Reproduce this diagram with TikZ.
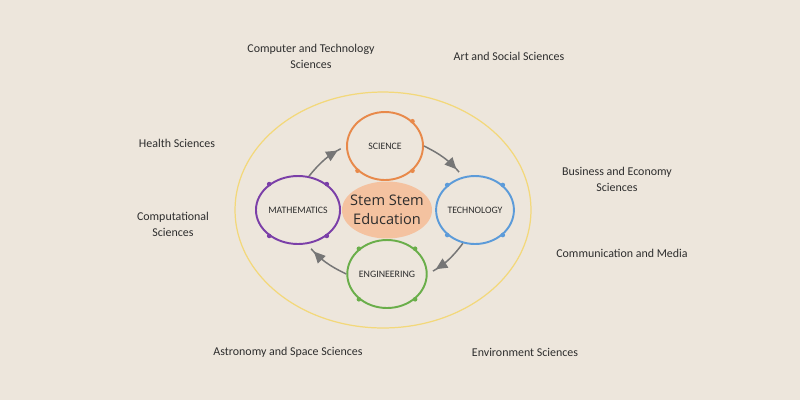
\documentclass[tikz,border=0pt]{standalone}
\usepackage{fontspec}
\setmainfont{Carlito}
\newfontfamily\opensans{Open Sans}
\usetikzlibrary{shapes.geometric,arrows.meta,decorations.markings}
\definecolor{paper}{RGB}{237,230,220}
\definecolor{ink}{RGB}{45,45,45}
\definecolor{sciorange}{RGB}{232,137,74}
\definecolor{mathpurple}{RGB}{123,63,168}
\definecolor{techblue}{RGB}{92,155,217}
\definecolor{enggreen}{RGB}{106,174,74}
\definecolor{peach}{RGB}{244,194,160}
\definecolor{rimyellow}{RGB}{243,216,122}
\definecolor{flowgray}{RGB}{118,118,118}
\begin{document}
\begin{tikzpicture}[x=0.02cm, y=-0.02cm,
    field/.style={align=center, text=ink, font=\fontsize{6.8}{9}\selectfont},
    ring/.style={ellipse, draw, line width=1.1pt, minimum width=1.52cm, minimum height=1.36cm,
        inner sep=0pt, text=ink, font=\fontsize{5.6}{6}\selectfont},
    flow/.style={draw=flowgray, line width=0.85pt, shorten >=0.12cm,
        postaction={decorate}, decoration={markings,
        mark=at position 0.8 with {\arrow[flowgray]{Triangle[length=6.5pt,width=6pt]}}}}]
        \fill[paper] (0,0) rectangle (800,400);
        % outer ring
        \node[ellipse, draw=rimyellow, line width=0.7pt, minimum width=5.92cm, minimum height=4.72cm] (rim) at (383,210) {};
        % centre
        \node[ellipse, fill=peach, minimum width=1.8cm, minimum height=1.14cm, inner sep=0pt] (stem) at (387,210) {};
        \node[align=center, text=ink, font=\opensans\fontsize{8.3}{10.5}\selectfont] (stemtext) at (stem.center) {Stem Stem\\Education};
        % four rings
        \node[ring, draw=sciorange] (sci) at (385,146) {SCIENCE};
        \node[ring, draw=mathpurple] (math) at (298,210) {MATHEMATICS};
        \node[ring, draw=techblue] (tech) at (475,210) {TECHNOLOGY};
        \node[ring, draw=enggreen] (eng) at (387,274) {ENGINEERING};
        \foreach \r/\c/\a in {sci/sciorange/42, sci/sciorange/222, sci/sciorange/318,
            math/mathpurple/42, math/mathpurple/138, math/mathpurple/222, math/mathpurple/318,
            tech/techblue/42, tech/techblue/138, tech/techblue/222, tech/techblue/318,
            eng/enggreen/42, eng/enggreen/138, eng/enggreen/222, eng/enggreen/318}
            \fill[\c] (\r.\a) circle (1.3pt);
        % cycle arrows
        \draw[flow] (math.72) to[bend left=12] (sci.west);
        \draw[flow] (sci.east) to[bend left=12] (tech.110);
        \draw[flow] (tech.250) to[bend left=12] (eng.east);
        \draw[flow] (eng.west) to[bend left=12] (math.285);
        % fields around
        \node[field] (comp) at (311,56) {Computer and Technology\\Sciences};
        \node[field] (art) at (509,56) {Art and Social Sciences};
        \node[field] (health) at (177,143) {Health Sciences};
        \node[field] (biz) at (617,179) {Business and Economy\\Sciences};
        \node[field] (cmpt) at (173,224) {Computational\\Sciences};
        \node[field] (media) at (622,253) {Communication and Media};
        \node[field] (astro) at (288,352) {Astronomy and Space Sciences};
        \node[field] (env) at (525,352) {Environment Sciences};
\end{tikzpicture}
\end{document}
